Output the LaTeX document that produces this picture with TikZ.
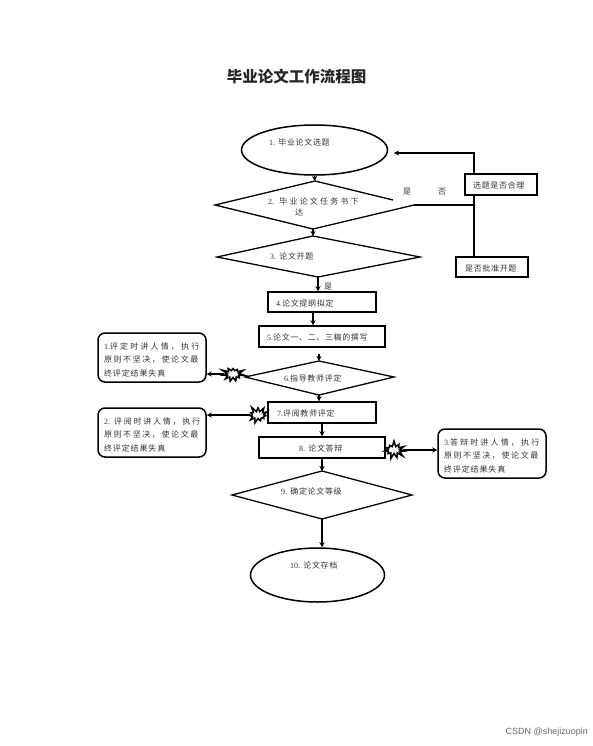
\documentclass[tikz,border=0pt]{standalone}
\usepackage{fontspec}
\setmainfont{Noto Sans CJK SC}
\newfontfamily\lat{Liberation Serif}
\newfontfamily\wm{Liberation Sans}
\usetikzlibrary{arrows.meta,shapes.geometric,shapes.symbols}
\newcommand{\ls}[1]{\addfontfeature{LetterSpace=#1}}
\newcommand{\firstln}{\rule{0pt}{11.5pt}}
\tikzset{
  line/.style={line width=1.3pt,black},
  edgeln/.style={line width=1.3pt,black},
  arr/.style={line width=1.3pt,black,-{Stealth[length=5pt,width=5pt]}},
  rectbox/.style={draw,line width=1.5pt,rectangle,inner sep=0pt},
  ovalbox/.style={draw,line width=1.5pt,ellipse,inner sep=0pt},
  noteb/.style={draw,line width=1.5pt,rectangle,rounded corners=7pt,inner sep=0pt,text width=96pt,align=left,font=\fontsize{8}{13.5}\selectfont,text=black!80},
  burst/.style={draw,fill=white,line width=1.5pt,starburst,starburst points=11,starburst point height=6pt,inner sep=0pt,minimum width=24pt,minimum height=19pt},
  lab/.style={anchor=west,inner sep=0pt,font=\fontsize{8}{9}\selectfont,text=black!80},
}
\begin{document}
\begin{tikzpicture}[x=1pt,y=-1pt]
\useasboundingbox (0,0) rectangle (592,746);
% title
\node[inner sep=0pt,font=\fontsize{15.5}{17}\bfseries\selectfont,text=black!85] (title) at (296.5,77) {毕业论文工作流程图};
% shape corners
\coordinate (d2t) at (315,181); \coordinate (d2l) at (215,205); \coordinate (d2r) at (414,205); \coordinate (d2b) at (313,229); \coordinate (d2g) at (393,200);
\coordinate (d3t) at (313,236); \coordinate (d3l) at (217,257); \coordinate (d3r) at (420,257); \coordinate (d3b) at (318,277);
\coordinate (d6t) at (319,361); \coordinate (d6l) at (245,377); \coordinate (d6r) at (394,377); \coordinate (d6b) at (319,395);
\coordinate (d9t) at (322,471); \coordinate (d9l) at (232,495); \coordinate (d9r) at (412,495); \coordinate (d9b) at (322,519);
\coordinate (s6) at (319,354);
\coordinate (x45) at (313,300); \coordinate (xr) at (474,153); \coordinate (arrR) at (394,153);
% shapes
\node[ovalbox,minimum width=146pt,minimum height=50pt] (e1) at (314.5,150) {};
\draw[edgeln] (d2g) -- (d2t) -- (d2l) -- (d2b) -- (d2r);
\draw[edgeln] (d3t) -- (d3l) -- (d3b) -- (d3r) -- cycle;
\node[rectbox,minimum width=108pt,minimum height=20pt] (b4) at (322,302) {};
\node[rectbox,minimum width=126pt,minimum height=21pt] (b5) at (322,336.5) {};
\draw[edgeln] (d6t) -- (d6l) -- (d6b) -- (d6r) -- cycle;
\node[rectbox,minimum width=108pt,minimum height=21pt] (b7) at (322,412.5) {};
\node[rectbox,minimum width=126pt,minimum height=21pt] (b8) at (322,447.5) {};
\draw[edgeln] (d9t) -- (d9l) -- (d9b) -- (d9r) -- cycle;
\node[ovalbox,minimum width=134pt,minimum height=54pt] (e10) at (317.5,575) {};
\node[rectbox,minimum width=72pt,minimum height=21pt] (bq) at (501,184.5) {};
\node[rectbox,minimum width=72pt,minimum height=20pt] (bk) at (492,267) {};
% notes
\node[noteb,minimum width=108pt,minimum height=49pt] (n1) at (152,357.5) {\firstln{\ls{27}{\lat 1.}评定时讲人情，执行}\\{\ls{20}原则不坚决，使论文最}\\{\ls{11}终评定结果失真}};
\node[noteb,minimum width=108pt,minimum height=49pt] (n2) at (152,432.5) {\firstln{\ls{22}{\lat 2.} 评阅时讲人情，执行}\\{\ls{20}原则不坚决，使论文最}\\{\ls{11}终评定结果失真}};
\node[noteb,minimum width=108pt,minimum height=49pt] (n3) at (492,453.5) {\firstln{\ls{27}{\lat 3.}答辩时讲人情，执行}\\{\ls{20}原则不坚决，使论文最}\\{\ls{11}终评定结果失真}};
% bursts
\node[burst,random starburst=3] (s1) at (233,374) {};
\node[burst,random starburst=5] (s2) at (258,415) {};
\node[burst,random starburst=7] (s3) at (394,450) {};
% connectors
\draw[arr] (e1.south) -- (d2t);
\draw[arr] (d2b) -- (d3t);
\draw[arr] (d3b) -- (d3b |- b4.north);
\draw[arr] (x45 |- b4.south) -- (x45 |- b5.north);
\draw[arr] (s6) -- (d6t);
\draw[arr] (d6b) -- (d6b |- b7.north);
\draw[arr] (b7.south) -- (b8.north);
\draw[arr] (b8.south) -- (d9t);
\draw[arr] (d9b) -- (d9b |- e10.north);
\draw[arr] (s1.west) -- (s1.west -| n1.east);
\draw[arr] (s2.west) -- (s2.west -| n2.east);
\draw[arr] (s3.east) -- (s3.east -| n3.west);
\draw[arr] (xr |- bq.north) -- (xr) -- (arrR);
\draw[line] (xr |- bq.south) -- (xr |- bk.north);
\draw[line] (xr |- d2r) -- (d2r);
% labels
\node[lab] (t1) at (269,142) {{\ls{8}{\lat 1.} 毕业论文选题}};
\node[lab] (t2) at (268,201) {{\ls{27}{\lat 2.} 毕业论文任务书下}};
\node[lab] (t2b) at (295,212) {达};
\node[lab] (ty) at (403,192) {是};
\node[lab] (tn) at (438,192) {否};
\node[lab] (t3) at (270,256) {{\ls{8}{\lat 3.} 论文开题}};
\node[lab] (ty2) at (324,287) {是};
\node[lab] (t4) at (276,303) {{\ls{8}{\lat 4.}论文提纲拟定}};
\node[lab] (tq) at (473,185) {{\ls{8}选题是否合理}};
\node[lab] (tk) at (465,268) {{\ls{8}是否批准开题}};
\node[lab] (t5) at (267,337) {{\ls{8}{\lat 5.}论文一、二、三稿的撰写}};
\node[lab] (t6) at (284,378) {{\ls{8}{\lat 6.}指导教师评定}};
\node[lab] (t7) at (277,413) {{\ls{8}{\lat 7.}评阅教师评定}};
\node[lab] (t8) at (299,448) {{\ls{8}{\lat 8.} 论文答辩}};
\node[lab] (t9) at (281,491) {{\ls{8}{\lat 9.} 确定论文等级}};
\node[lab] (t10) at (290,565) {{\ls{8}{\lat 10.} 论文存档}};
\node[anchor=east,inner sep=0pt,font=\wm\fontsize{9}{10}\selectfont,text=black!60] (wm) at (588,732) {CSDN @shejizuopin};
\end{tikzpicture}
\end{document}
